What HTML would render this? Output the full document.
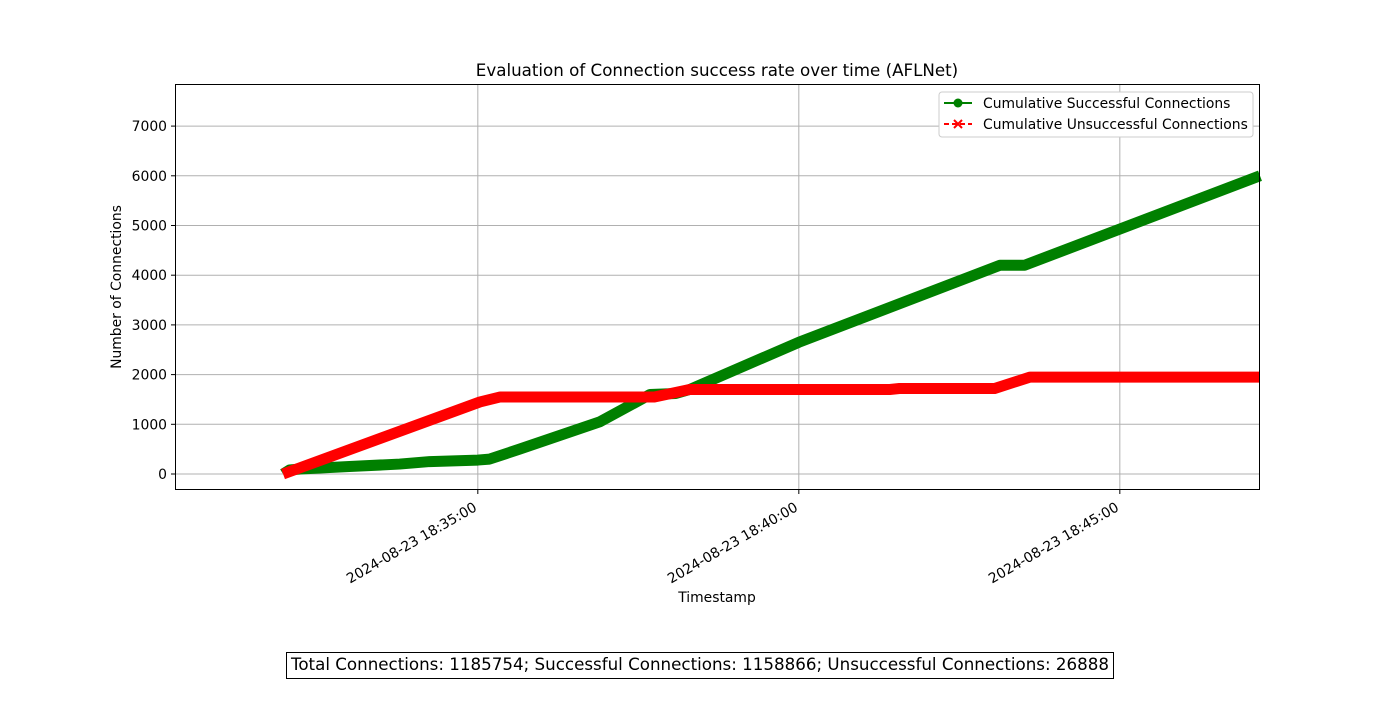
<!DOCTYPE html>
<html><head><meta charset="utf-8"><style>
body{margin:0;background:#fff;font-family:"Liberation Sans","DejaVu Sans",sans-serif}
svg text{font-family:"DejaVu Sans","Liberation Sans",sans-serif}
</style></head><body>
<svg id="chart" width="1400" height="700">
<rect width="1400" height="700" fill="#fff"/>
<g id="grid"></g><g id="series"></g><g id="axes"></g>
<text x="717" y="76" font-size="16.7" text-anchor="middle">Evaluation of Connection success rate over time (AFLNet)</text>
<text x="717" y="602" font-size="13.9" text-anchor="middle">Timestamp</text>
<text transform="translate(121,287) rotate(-90)" font-size="13.9" text-anchor="middle">Number of Connections</text>
<g>
<rect x="939" y="92" width="314" height="45" rx="3" fill="#fff" stroke="#ccc"/>
<g>
<line x1="944" y1="103" x2="972" y2="103" stroke="green" stroke-width="2"/><circle cx="958" cy="103" r="4.5" fill="green"/>
<text x="983" y="108" font-size="13.9">Cumulative Successful Connections</text></g>
<g>
<line x1="944" y1="124" x2="972" y2="124" stroke="red" stroke-width="2" stroke-dasharray="5,3"/><path d="M954 120l8 8M962 120l-8 8" stroke="red" stroke-width="2"/>
<text x="983" y="129" font-size="13.9">Cumulative Unsuccessful Connections</text></g>
</g>
<g>
<rect x="286.5" y="652.5" width="827" height="26" fill="#fff" stroke="#000"/>
<text x="700" y="670" font-size="16.7" text-anchor="middle">Total Connections: 1185754; Successful Connections: 1158866; Unsuccessful Connections: 26888</text></g>
</svg>
<script>
// seconds relative to 18:35:00
const successTimes=[-182,-176,-166,-120,-73,-45,0,11,39,114,161,185,198,300,488,511,731];
const successValues=[0,80,100,150,200,250,280,300,500,1050,1600,1620,1700,2650,4200,4200,6000];
const failTimes=[-182,2,21,165,198,385,394,483,516,731];
const failValues=[0,1450,1550,1550,1700,1700,1720,1720,1950,1950];
const yTicks=[0,1000,2000,3000,4000,5000,6000,7000];
const xTickTimes=[0,300,600];
const xTickLabels=["2024-08-23 18:35:00","2024-08-23 18:40:00","2024-08-23 18:45:00"];
const L=175,R=1260,T=84,B=490,tMin=-283,tMax=731,vMin=-322,vMax=7847;
const X=t=>L+(t-tMin)/(tMax-tMin)*(R-L);
const Y=v=>B-(v-vMin)/(vMax-vMin)*(B-T);
const NS="http://www.w3.org/2000/svg";
function mk(tag,attrs,parent){const e=document.createElementNS(NS,tag);for(const k in attrs)e.setAttribute(k,attrs[k]);document.getElementById(parent).appendChild(e);return e;}
yTicks.forEach(v=>{
 const g=mk('line',{x1:L,x2:R,y1:Y(v),y2:Y(v),stroke:'#b0b0b0','stroke-width':1},'grid');
 
 
 mk('line',{x1:L-4,x2:L,y1:Y(v),y2:Y(v),stroke:'#000'},'axes');
 const t=mk('text',{x:L-8,y:Y(v)+5,'font-size':13.9,'text-anchor':'end'},'axes');t.textContent=v;
 
 
});
xTickTimes.forEach((tt,i)=>{
 const x=X(tt);
 const g=mk('line',{x1:x,x2:x,y1:T,y2:B,stroke:'#b0b0b0','stroke-width':1},'grid');
 
 
 mk('line',{x1:x,x2:x,y1:B,y2:B+4,stroke:'#000'},'axes');
 const t=mk('text',{x:0,y:0,'font-size':13.9,'text-anchor':'end',transform:`translate(${x},${B+20}) rotate(-30)`},'axes');t.textContent=xTickLabels[i];
 
 
});
const fr=mk('rect',{x:L+0.5,y:T+0.5,width:R-L-1,height:B-T-1,fill:'none',stroke:'#000'},'axes');


function series(ts,vs,color,name){
 const pts=ts.map((t,i)=>X(t)+','+Y(vs[i])).join(' ');
 const p=mk('polyline',{points:pts,fill:'none',stroke:color,'stroke-width':11,'stroke-linejoin':'round','stroke-linecap':'butt'},'series');
 
 
}
series(successTimes,successValues,'green','successful-line');
series(failTimes,failValues,'red','unsuccessful-line');
</script>
</body></html>
